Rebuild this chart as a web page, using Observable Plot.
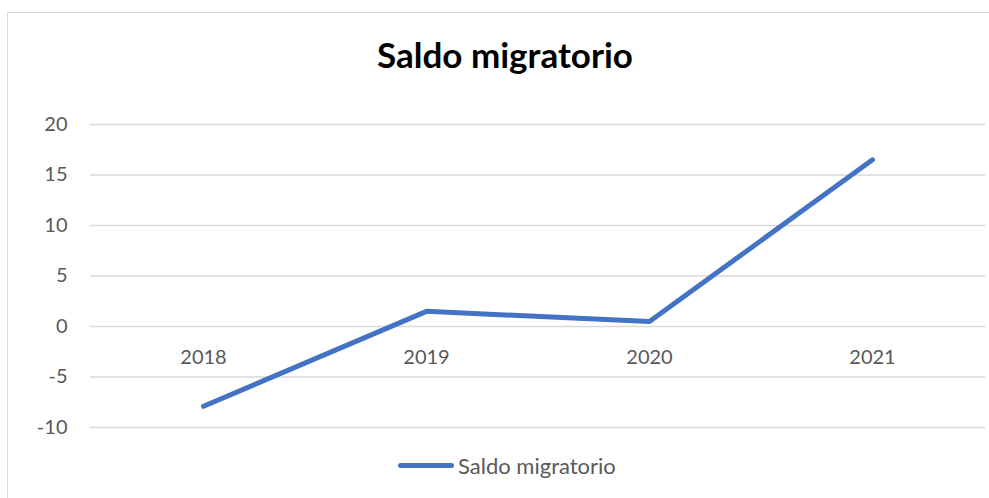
<!DOCTYPE html>
<html>
<head>
<meta charset="utf-8">
<script src="https://cdn.jsdelivr.net/npm/d3@7"></script>
<script src="https://cdn.jsdelivr.net/npm/@observablehq/plot@0.6"></script>
<style>
  html, body { margin: 0; padding: 0; background: #fff; overflow: hidden; }
  #wrap { position: relative; width: 989px; height: 498px; font-family: Lato, "Open Sans", sans-serif; }
  #frame { position: absolute; left: 7px; top: 12px; width: 1000px; height: 500px; border: 1.5px solid #d9d9d9; box-sizing: border-box; }
  #title { position: absolute; left: 255px; width: 500px; top: 34px; text-align: center; font-weight: bold; font-size: 35px; color: #000; line-height: 40px; }
  #legend { position: absolute; left: 398px; top: 452px; height: 26px; display: flex; align-items: center; color: #595959; font-size: 22px; }
  #legend .sw { width: 56px; height: 5px; background: #4472C4; border-radius: 3px; margin-right: 4px; }
  #chart { position: absolute; left: 0; top: 0; }
</style>
</head>
<body>
<div id="wrap">
  <div id="frame"></div>
  <div id="chart"></div>
  <div id="title">Saldo migratorio</div>
  <div id="legend"><div class="sw"></div><span>Saldo migratorio</span></div>
</div>
<script>
const years = ["2018", "2019", "2020", "2021"];
const saldo = [-7.9, 1.5, 0.5, 16.5];
const yTicks = [-10, -5, 0, 5, 10, 15, 20];

const data = years.map((y, i) => ({year: y, value: saldo[i]}));

const chart = Plot.plot({
  width: 989,
  height: 498,
  marginLeft: 90,
  marginRight: 4,
  marginTop: 124,
  marginBottom: 71,
  style: {fontFamily: "Lato, 'Open Sans', sans-serif", background: "transparent", overflow: "visible"},
  x: {type: "point", domain: years, padding: 0.5, axis: null},
  y: {domain: [-10, 20], ticks: yTicks},
  marks: [
    Plot.ruleY(yTicks, {stroke: "#d9d9d9", strokeWidth: 1.4}),
    Plot.axisY(yTicks, {tickSize: 0, tickPadding: 23, fontSize: 20, fill: "#595959", label: null, tickFormat: d => String(d)}),
    Plot.text(years, {x: d => d, y: () => 0, dy: 31, fontSize: 20, fill: "#595959", lineAnchor: "middle"}),
    Plot.line(data, {x: "year", y: "value", stroke: "#4472C4", strokeWidth: 5, strokeLinecap: "round", strokeLinejoin: "round"})
  ]
});
document.getElementById("chart").appendChild(chart);
</script>
</body>
</html>
